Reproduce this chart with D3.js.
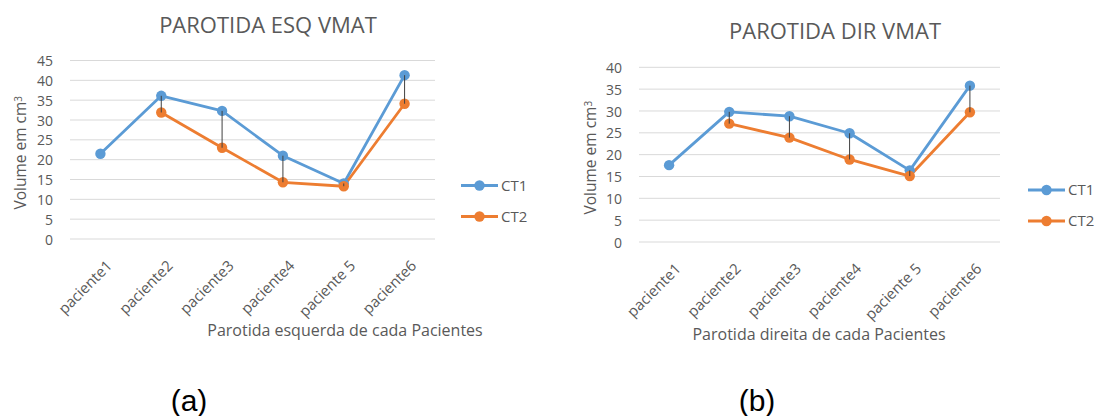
<!DOCTYPE html>
<html>
<head>
<meta charset="utf-8">
<script src="https://cdn.jsdelivr.net/npm/d3@7"></script>
<style>
  html, body { margin: 0; padding: 0; background: #fff; }
  svg { display: block; }
  text { font-family: "Open Sans", "Noto Sans", sans-serif; fill: #595959; }
</style>
</head>
<body>
<svg id="chart" width="1097" height="416"></svg>
<script>
// Patients on the category axis
const patients = ["paciente1", "paciente2", "paciente3", "paciente4", "paciente 5", "paciente6"];
const seriesNames = ["CT1", "CT2"];

// Left parotid volumes (cm³)
const leftCT1 = [21.5, 36.1, 32.3, 21.0, 14.0, 41.3];
const leftCT2 = [null, 31.9, 23.0, 14.3, 13.3, 34.1];

// Right parotid volumes (cm³)
const rightCT1 = [17.6, 29.8, 28.8, 24.9, 16.4, 35.8];
const rightCT2 = [null, 27.1, 23.9, 18.9, 15.1, 29.7];

// Value-axis ticks
const leftTicks = [0, 5, 10, 15, 20, 25, 30, 35, 40, 45];
const rightTicks = [0, 5, 10, 15, 20, 25, 30, 35, 40];

const colors = { CT1: "#5B9BD5", CT2: "#ED7D31" };

const svg = d3.select("#chart");

function drawPanel(cfg) {
  const g = svg.append("g");
  const x = d3.scaleBand().domain(patients).range([cfg.x0, cfg.x1]);
  const y = d3.scaleLinear().domain([0, d3.max(cfg.ticks)]).range([cfg.yBottom, cfg.yTop]);
  const cx = d => x(d) + x.bandwidth() / 2;

  // Title
  g.append("text")
    .attr("x", cfg.titleX).attr("y", cfg.titleY)
    .attr("text-anchor", "middle")
    .style("font-size", "22px")
    .text(cfg.title);

  // Horizontal gridlines
  g.append("g").selectAll("line").data(cfg.ticks).join("line")
    .attr("x1", cfg.x0).attr("x2", cfg.x1)
    .attr("y1", d => y(d)).attr("y2", d => y(d))
    .attr("stroke", "#D9D9D9").attr("stroke-width", 1);

  // Y axis labels
  const yAxis = d3.axisLeft(y).tickValues(cfg.ticks).tickSize(0).tickPadding(0);
  const ya = g.append("g").attr("transform", `translate(${cfg.x0 - 17},0)`).call(yAxis);
  ya.select(".domain").remove();
  ya.selectAll("text")
    .attr("dy", "0.36em")
    .style("font-size", "14px")
    .style("font-family", "'Open Sans', sans-serif")
    .attr("fill", "#595959");

  // Y axis title
  const yt = g.append("text")
    .attr("transform", `translate(${cfg.yTitleX},${(cfg.yTop + cfg.yBottom) / 2 + 3}) rotate(-90)`)
    .attr("text-anchor", "middle")
    .style("font-size", "15.5px");
  yt.append("tspan").text("Volume em cm");
  yt.append("tspan").attr("dy", "-0.45em").style("font-size", "10px").text("3");

  // Category labels, rotated
  const xAxis = d3.axisBottom(x).tickSize(0).tickPadding(0);
  const xa = g.append("g").attr("transform", `translate(0,${cfg.yBottom})`).call(xAxis);
  xa.select(".domain").remove();
  xa.selectAll(".tick text")
    .attr("transform", "translate(5,20) rotate(-45)")
    .attr("x", 0).attr("y", 0).attr("dy", "0.72em")
    .attr("text-anchor", "end")
    .style("font-size", "15px")
    .style("font-family", "'Open Sans', sans-serif")
    .attr("fill", "#595959");

  // X axis title
  g.append("text")
    .attr("x", cfg.xTitleX).attr("y", cfg.xTitleY)
    .attr("text-anchor", "middle")
    .style("font-size", "16px")
    .text(cfg.xTitle);

  const series = [
    { name: "CT1", values: cfg.ct1 },
    { name: "CT2", values: cfg.ct2 }
  ];

  // Lines
  const line = d3.line()
    .defined(d => d.v != null)
    .x(d => cx(d.p)).y(d => y(d.v));
  series.forEach(s => {
    const pts = patients.map((p, i) => ({ p, v: s.values[i] }));
    g.append("path").datum(pts)
      .attr("d", line)
      .attr("fill", "none")
      .attr("stroke", colors[s.name])
      .attr("stroke-width", 2.8)
      .attr("stroke-linejoin", "round");
  });

  // Markers
  series.forEach(s => {
    const pts = patients.map((p, i) => ({ p, v: s.values[i] })).filter(d => d.v != null);
    g.append("g").selectAll("circle").data(pts).join("circle")
      .attr("cx", d => cx(d.p)).attr("cy", d => y(d.v))
      .attr("r", 5.2)
      .attr("fill", colors[s.name]);
  });

  // High-low lines between the two series
  const pairs = patients.map((p, i) => ({ p, a: cfg.ct1[i], b: cfg.ct2[i] }))
    .filter(d => d.a != null && d.b != null);
  g.append("g").selectAll("line").data(pairs).join("line")
    .attr("x1", d => cx(d.p)).attr("x2", d => cx(d.p))
    .attr("y1", d => y(d.a)).attr("y2", d => y(d.b))
    .attr("stroke", "#404040").attr("stroke-width", 1);

  // Legend
  const lg = g.append("g");
  seriesNames.forEach((name, i) => {
    const ly = cfg.legendY + i * 31;
    lg.append("line")
      .attr("x1", cfg.legendX).attr("x2", cfg.legendX + 37)
      .attr("y1", ly).attr("y2", ly)
      .attr("stroke", colors[name]).attr("stroke-width", 2.8);
    lg.append("circle")
      .attr("cx", cfg.legendX + 18.5).attr("cy", ly).attr("r", 5.2)
      .attr("fill", colors[name]);
    lg.append("text")
      .attr("x", cfg.legendX + 40).attr("y", ly).attr("dy", "0.36em")
      .style("font-size", "15px")
      .text(name);
  });

  // Panel caption
  svg.append("text")
    .attr("x", cfg.capX).attr("y", 411)
    .attr("text-anchor", "middle")
    .style("font-family", "'Liberation Sans', Arial, sans-serif")
    .style("font-size", "30px")
    .style("fill", "#000")
    .text(cfg.caption);
}

drawPanel({
  title: "PAROTIDA ESQ VMAT", titleX: 268, titleY: 33,
  x0: 70, x1: 435, yTop: 60.5, yBottom: 239,
  ticks: leftTicks, ct1: leftCT1, ct2: leftCT2,
  yTitleX: 26,
  xTitle: "Parotida esquerda de cada Pacientes", xTitleX: 345, xTitleY: 336,
  legendX: 461, legendY: 185.5,
  caption: "(a)", capX: 189
});

drawPanel({
  title: "PAROTIDA DIR VMAT", titleX: 835, titleY: 39,
  x0: 639, x1: 1000, yTop: 67.3, yBottom: 242,
  ticks: rightTicks, ct1: rightCT1, ct2: rightCT2,
  yTitleX: 596,
  xTitle: "Parotida direita de cada Pacientes", xTitleX: 819, xTitleY: 340,
  legendX: 1028, legendY: 190,
  caption: "(b)", capX: 757
});
</script>
</body>
</html>
